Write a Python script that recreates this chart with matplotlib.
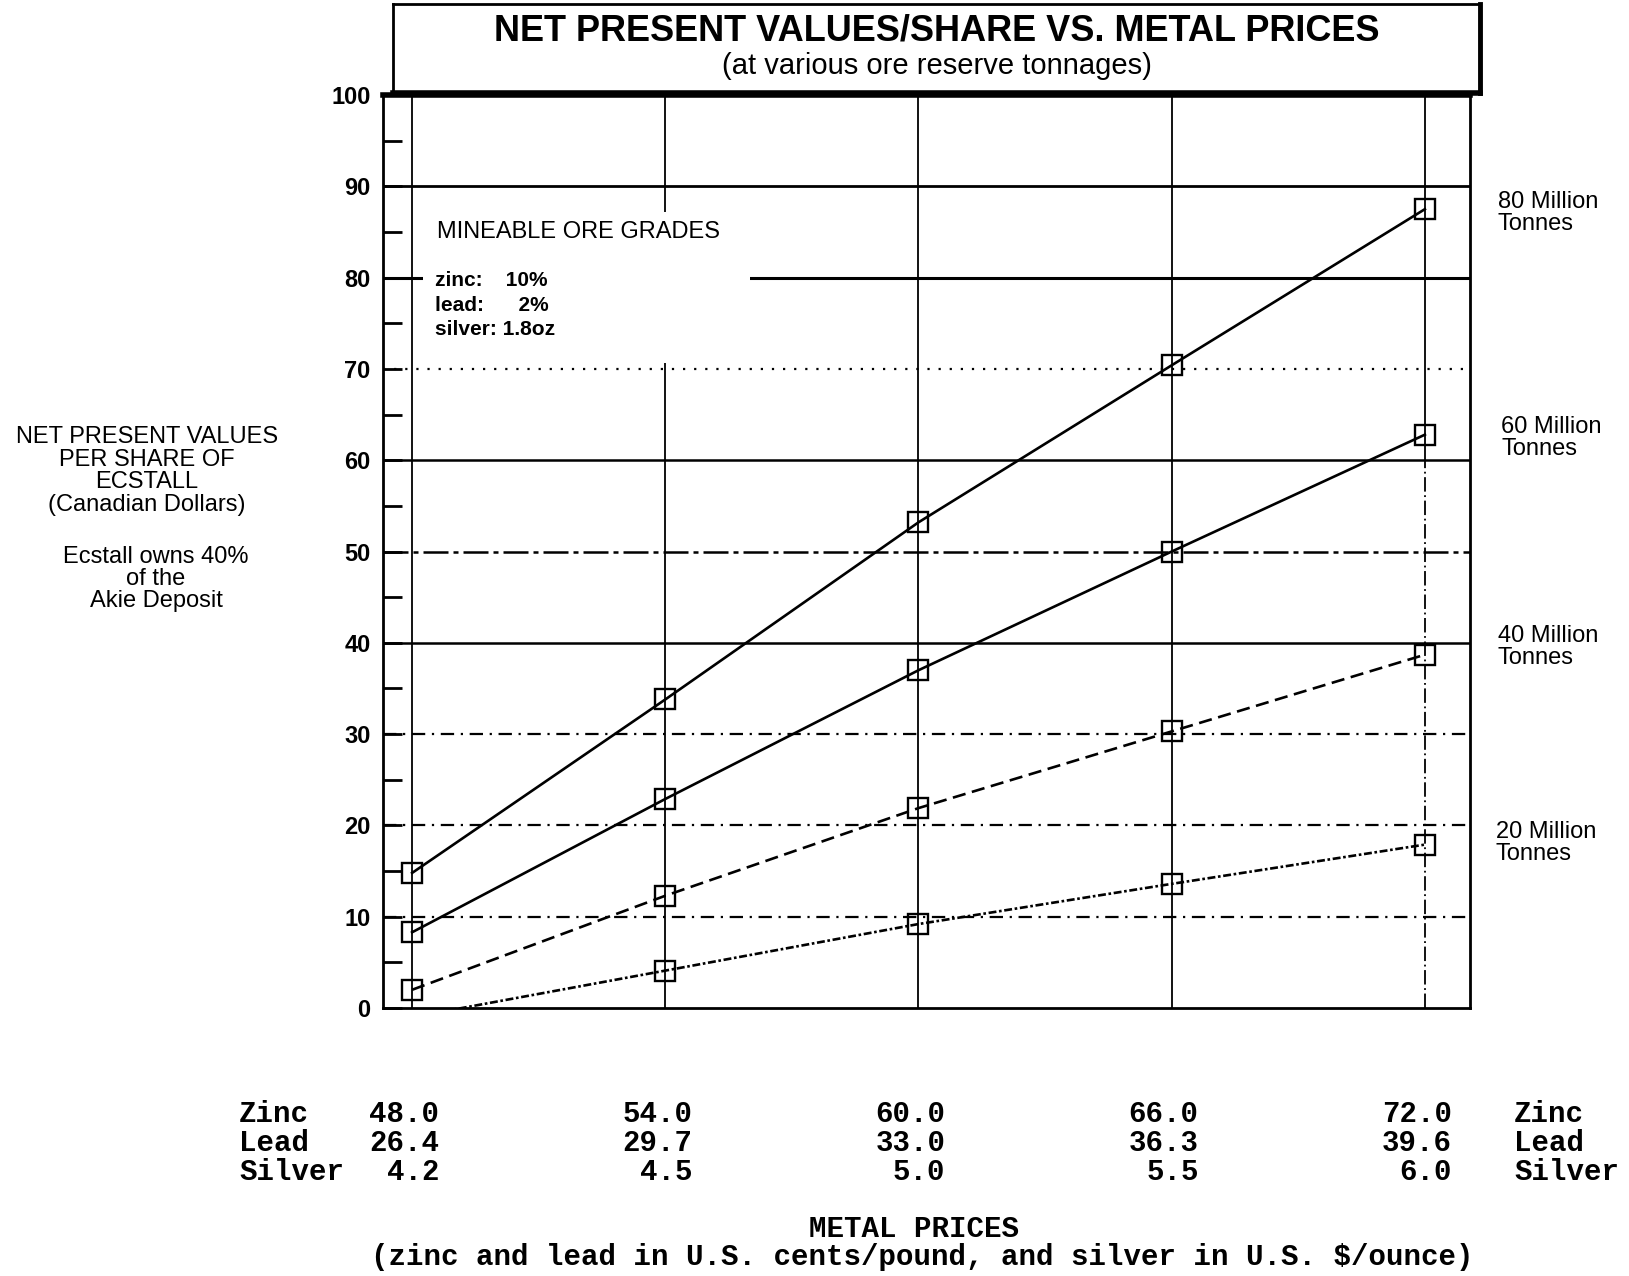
import matplotlib
matplotlib.use("Agg")
import matplotlib.pyplot as plt
from matplotlib.patches import Rectangle
from matplotlib.ticker import MultipleLocator
import matplotlib.transforms as mtransforms

# ---------------- data ----------------
zinc_prices = [48.0, 54.0, 60.0, 66.0, 72.0]
lead_prices = ["26.4", "29.7", "33.0", "36.3", "39.6"]
silver_prices = ["4.2", "4.5", "5.0", "5.5", "6.0"]
zinc_labels = ["48.0", "54.0", "60.0", "66.0", "72.0"]

series_names = ["80 Million\nTonnes", "60 Million\nTonnes", "40 Million\nTonnes", "20 Million\nTonnes"]
npv_80 = [14.8, 33.8, 53.2, 70.4, 87.5]
npv_60 = [8.3, 22.9, 37.0, 50.0, 62.8]
npv_40 = [2.0, 12.3, 21.9, 30.3, 38.7]
npv_20 = [-1.0, 4.1, 9.2, 13.6, 17.9]

y_ticks = [0, 10, 20, 30, 40, 50, 60, 70, 80, 90, 100]

grade_title = "MINEABLE ORE GRADES"
grade_lines = ["zinc:    10%", "lead:      2%", "silver: 1.8oz"]

# ---------------- fonts ----------------
SANS = ["Liberation Sans", "DejaVu Sans"]
MONO = ["Liberation Mono", "DejaVu Sans Mono"]
plt.rcParams["font.family"] = SANS

fig = plt.figure(figsize=(16.29, 12.76), dpi=100)
fig.patch.set_facecolor("white")

ax = fig.add_axes([383 / 1629, 0.210, 1087 / 1629, 0.7155])
ax.set_xlim(47.31, 73.07)
ax.set_ylim(0, 100)

# horizontal grid lines with mixed styles (as in the scanned original)
hstyles = {
    10: dict(ls=(0, (6, 3, 1, 3)), lw=1.6),
    20: dict(ls=(0, (6, 3, 1, 3)), lw=1.6),
    30: dict(ls=(0, (6, 3, 1, 3)), lw=1.6),
    40: dict(ls="-", lw=1.8),
    50: dict(ls=(0, (10, 2, 2, 2)), lw=1.8),
    60: dict(ls="-", lw=1.8),
    70: dict(ls=(0, (1, 4)), lw=1.6),
    80: dict(ls="-", lw=2.2),
    90: dict(ls="-", lw=2.0),
}
for yv, st in hstyles.items():
    ax.axhline(yv, color="black", zorder=1, **st)

# vertical grid lines at each price point
for i, xv in enumerate(zinc_prices):
    if i == len(zinc_prices) - 1:
        ax.plot([xv, xv], [0, 60], color="black", lw=1.3, ls=(0, (8, 2, 1, 2)), zorder=1)
        ax.plot([xv, xv], [60, 100], color="black", lw=1.3, zorder=1)
    else:
        ax.axvline(xv, color="black", lw=1.3, zorder=1)

# white area behind the ore-grade note
ax.add_patch(Rectangle((48.25, 70.6), 7.75, 16.6, facecolor="white",
                       edgecolor="none", zorder=2))

# series
series = [npv_80, npv_60, npv_40, npv_20]
styles = ["-", "-", (0, (5, 2.5)), (0, (3, 1, 1, 1))]
for vals, ls in zip(series, styles):
    keep = [i for i, v in enumerate(vals) if v >= 0]
    ax.plot(zinc_prices, vals, color="black", lw=1.9, ls=ls, marker="s",
            markersize=14.5, markerfacecolor="none", markeredgecolor="black",
            markeredgewidth=1.7, markevery=keep, zorder=4)

# axes styling
for s in ["left", "right", "bottom"]:
    ax.spines[s].set_linewidth(2.0)
ax.spines["top"].set_linewidth(4.0)
ax.set_xticks([])
ax.yaxis.set_minor_locator(MultipleLocator(5))
ax.set_yticks(y_ticks)
ax.set_yticklabels([str(t) for t in y_ticks], fontsize=17, fontweight="bold", family=SANS)
ax.tick_params(axis="y", which="both", direction="in", length=14, width=2, pad=9)

# ore-grade note
ax.text(48.6, 85.0, grade_title, fontsize=17, family=SANS, va="center", ha="left", zorder=3)
for k, line in enumerate(grade_lines):
    ax.text(48.55, 79.7 - k * 2.7, line, fontsize=15, fontweight="bold", family=SANS,
            va="center", ha="left", zorder=3)

# series labels on the right
label_pos = [(1498, 213), (1501, 438), (1498, 647), (1496, 843)]
for name, (px, py) in zip(series_names, label_pos):
    fig.text(px / 1629, 1 - py / 1276, name, fontsize=17, family=SANS,
             ha="left", va="center", linespacing=1.0)

# left axis description
fig.text(147 / 1629, 1 - 471 / 1276,
         "NET PRESENT VALUES\nPER SHARE OF\nECSTALL\n(Canadian Dollars)",
         fontsize=17, ha="center", va="center", linespacing=1.02, family=SANS)
fig.text(156 / 1629, 1 - 579 / 1276, "Ecstall owns 40%\nof the\nAkie Deposit",
         fontsize=17, ha="center", va="center", linespacing=1.02, family=SANS)

# title box
tax = fig.add_axes([393 / 1629, 1 - 93 / 1276, 1087 / 1629, 89 / 1276])
tax.set_xticks([])
tax.set_yticks([])
for s in ["left", "top"]:
    tax.spines[s].set_linewidth(2.0)
tax.spines["right"].set_linewidth(3.5)
tax.spines["bottom"].set_linewidth(4.0)
tax.text(0.5, 0.70, "NET PRESENT VALUES/SHARE VS. METAL PRICES", fontsize=26,
         fontweight="bold", family=SANS, ha="center", va="center",
         transform=tax.transAxes)
tax.text(0.5, 0.30, "(at various ore reserve tonnages)", fontsize=21,
         family=SANS, ha="center", va="center", transform=tax.transAxes)

# bottom price table
row_y = [1114, 1143, 1172]
row_names = ["Zinc", "Lead", "Silver"]
rows = [zinc_labels, lead_prices, silver_prices]
off = mtransforms.offset_copy(ax.transData, fig=fig, x=27, y=0, units="dots")
blend = mtransforms.blended_transform_factory(off, fig.transFigure)
for ry, rname, rvals in zip(row_y, row_names, rows):
    yf = 1 - ry / 1276
    fig.text(239 / 1629, yf, rname, fontsize=21, fontweight="bold", family=MONO,
             ha="left", va="center")
    fig.text(1514 / 1629, yf, rname, fontsize=21, fontweight="bold", family=MONO,
             ha="left", va="center")
    for xv, lab in zip(zinc_prices, rvals):
        ax.text(xv, yf, lab, fontsize=21, fontweight="bold", family=MONO,
                ha="right", va="center", transform=blend, clip_on=False)

fig.text(914 / 1629, 1 - 1229 / 1276, "METAL PRICES", fontsize=21, fontweight="bold",
         family=MONO, ha="center", va="center")
fig.text(922 / 1629, 1 - 1257 / 1276,
         "(zinc and lead in U.S. cents/pound, and silver in U.S. $/ounce)",
         fontsize=21, fontweight="bold", family=MONO, ha="center", va="center")

fig.savefig("out.png", dpi=100, facecolor="white")
